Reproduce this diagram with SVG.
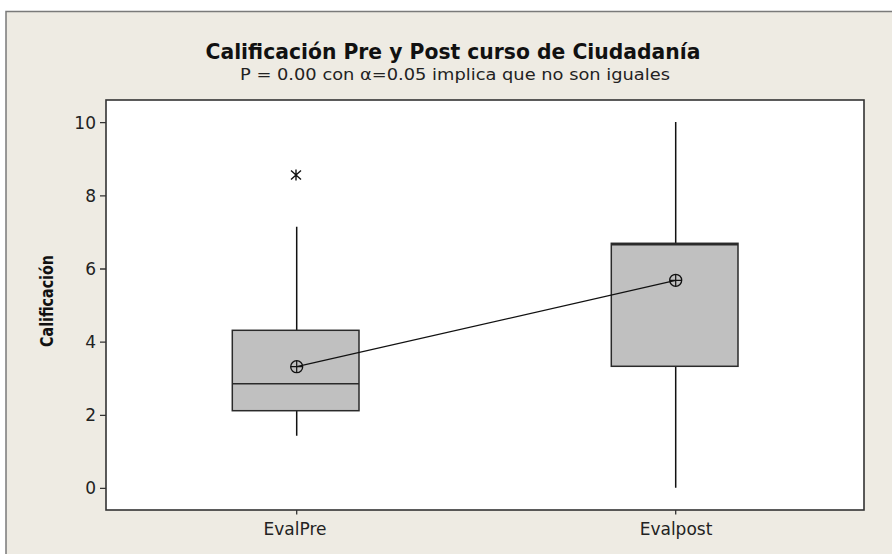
<svg xmlns="http://www.w3.org/2000/svg" width="892" height="554" viewBox="0 0 892 554">
<style>
.lbl{font-family:"DejaVu Sans","Liberation Sans",sans-serif;font-size:17px;fill:#222}
.box{fill:#c0c0c0;stroke:#2a2a2a;stroke-width:1.5}
.wh{stroke:#111;stroke-width:1.5;fill:none}
.tk{stroke:#333;stroke-width:1.3}
</style>
<defs>
<g id="mean"><circle r="6" fill="none" stroke="#111" stroke-width="1.3"/><path d="M-6 0H6M0 -6V6" stroke="#111" stroke-width="1.2"/></g>
</defs>
<rect width="892" height="554" fill="#fff"/>
<rect x="6" y="11" width="886" height="543" fill="#eeebe3"/>
<path d="M6 554V11.5H892" fill="none" stroke="#7a7a7a" stroke-width="1.5"/>
<g id="title">
<text x="453" y="59" text-anchor="middle" font-family="DejaVu Sans,Liberation Sans,sans-serif" font-weight="bold" font-size="21.5" fill="#111" textLength="495" lengthAdjust="spacingAndGlyphs">Calificación Pre y Post curso de Ciudadanía</text>
<text x="455" y="80" text-anchor="middle" font-family="DejaVu Sans,Liberation Sans,sans-serif" font-size="16.5" fill="#222" textLength="430" lengthAdjust="spacingAndGlyphs">P = 0.00 con α=0.05 implica que no son iguales</text>
</g>
<g id="plot-area">
<rect x="106" y="100" width="758" height="410" fill="#fff" stroke="#333" stroke-width="1.6"/>
</g>
<g id="y-axis">
<path class="tk" d="M100 122.7H106M100 195.8H106M100 269H106M100 342.1H106M100 415.3H106M100 488.4H106"/>
<g class="lbl" text-anchor="end">
<text x="96" y="128.7">10</text>
<text x="96" y="201.8">8</text>
<text x="96" y="275">6</text>
<text x="96" y="348.1">4</text>
<text x="96" y="421.3">2</text>
<text x="96" y="494.4">0</text>
</g>
<text transform="translate(53 301) rotate(-90)" text-anchor="middle" font-family="DejaVu Sans,Liberation Sans,sans-serif" font-weight="bold" font-size="17.5" fill="#111" textLength="92" lengthAdjust="spacingAndGlyphs">Calificación</text>
</g>
<g id="x-axis">
<path class="tk" d="M296.7 510V514.5M675.7 510V514.5"/>
<text class="lbl" x="295" y="535" text-anchor="middle">EvalPre</text>
<text class="lbl" x="676" y="535" text-anchor="middle">Evalpost</text>
</g>
<g id="box-evalpre">
<path class="wh" d="M296.7 226.7V330.3M296.7 410.7V435.7"/>
<rect class="box" x="232.3" y="330.3" width="126.7" height="80.4"/>
<path d="M232.3 383.7H359" stroke="#2a2a2a" stroke-width="1.5"/>
<path id="outlier" d="M296 169.5V180.5M291 170.5L301 179.5M301 170.5L291 179.5" stroke="#111" stroke-width="1.4" fill="none"/>
</g>
<g id="box-evalpost">
<path class="wh" d="M675.7 122V243.3M675.7 366.3V487.7"/>
<rect class="box" x="611.3" y="243.3" width="126.7" height="123"/>
<path d="M611.3 244.6H738" stroke="#2a2a2a" stroke-width="2"/>
</g>
<g id="connectors">
<path d="M296.7 366.7L675.7 280.3" stroke="#111" stroke-width="1.2" fill="none"/>
</g>
<g id="means">
<use href="#mean" x="296.7" y="366.7"/>
<use href="#mean" x="675.7" y="280.3"/>
</g>
</svg>
